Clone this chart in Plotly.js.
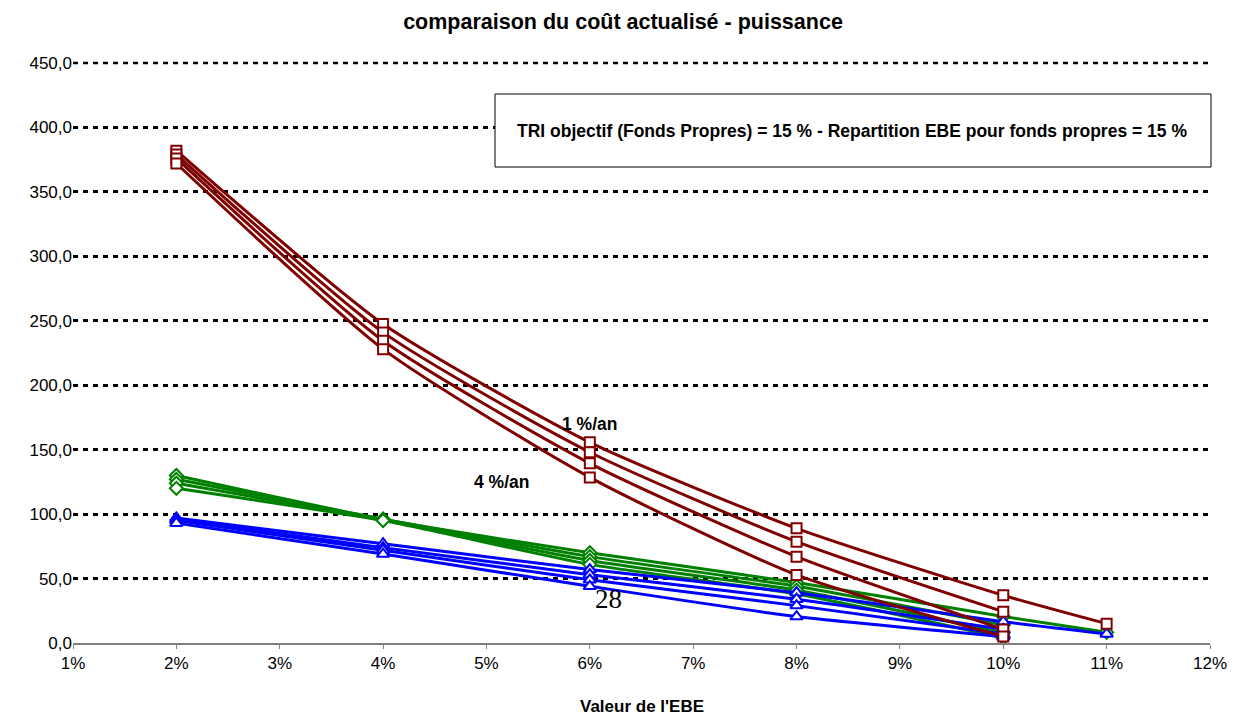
<!DOCTYPE html>
<html>
<head>
<meta charset="utf-8">
<script src="https://cdn.plot.ly/plotly-3.0.1.min.js"></script>
<style>html,body{margin:0;padding:0;background:#fff;}#chart{width:1233px;height:717px;}</style>
</head>
<body>
<div id="chart"></div>
<script>
// x values (EBE, %)
const xLong = [2, 4, 6, 8, 10, 11];
const xShort = [2, 4, 6, 8, 10];

// red group (squares)
const red1 = [382, 247.5, 155.7, 89, 37, 15];
const red2 = [379, 241, 148, 78.6, 24.3];
const red3 = [376, 234.5, 139.4, 67, 10.5];
const red4 = [372, 228, 128.5, 52.8, 5];

// green group (diamonds)
const green1 = [130, 96, 70, 47, 20.5, 8.3];
const green2 = [127, 96, 67, 44, 14];
const green3 = [124, 95.5, 64, 41, 8];
const green4 = [120, 95, 61, 38, 4];

// blue group (triangles)
const blue1 = [97, 77, 57, 39, 16.5, 7];
const blue2 = [96, 74, 53, 34, 10.6];
const blue3 = [95, 72, 49, 29, 7];
const blue4 = [93, 69, 44, 20.5, 4.9];

const seriesNames = ["1 %/an", "2 %/an", "3 %/an", "4 %/an"];
const xTickVals = [1,2,3,4,5,6,7,8,9,10,11,12];
const xTickText = ["1%","2%","3%","4%","5%","6%","7%","8%","9%","10%","11%","12%"];
const yTickVals = [0,50,100,150,200,250,300,350,400,450];
const yTickText = ["0,0","50,0","100,0","150,0","200,0","250,0","300,0","350,0","400,0","450,0"];

function mk(x, y, name, color, symbol) {
  return {
    x: x, y: y, name: name, type: "scatter", mode: "lines+markers",
    line: {color: color, width: 3, shape: "spline", smoothing: 0.6},
    marker: {symbol: symbol, size: symbol === "triangle-up" ? 11 : 10, color: "#ffffff",
             line: {color: color, width: 2}},
    cliponaxis: false,
    hoverinfo: "x+y+name"
  };
}
const RED = "#800000", GREEN = "#008000", BLUE = "#0000ff";
const data = [
  mk(xLong, green1, seriesNames[0], GREEN, "diamond"),
  mk(xShort, green2, seriesNames[1], GREEN, "diamond"),
  mk(xShort, green3, seriesNames[2], GREEN, "diamond"),
  mk(xShort, green4, seriesNames[3], GREEN, "diamond"),
  mk(xLong, blue1, seriesNames[0], BLUE, "triangle-up"),
  mk(xShort, blue2, seriesNames[1], BLUE, "triangle-up"),
  mk(xShort, blue3, seriesNames[2], BLUE, "triangle-up"),
  mk(xShort, blue4, seriesNames[3], BLUE, "triangle-up"),
  mk(xLong, red1, seriesNames[0], RED, "square"),
  mk(xShort, red2, seriesNames[1], RED, "square"),
  mk(xShort, red3, seriesNames[2], RED, "square"),
  mk(xShort, red4, seriesNames[3], RED, "square")
];

const FONT = "Liberation Sans, Arial, sans-serif";
const layout = {
  width: 1233, height: 717,
  margin: {l: 73, r: 23, t: 63, b: 74},
  paper_bgcolor: "#ffffff", plot_bgcolor: "#ffffff",
  showlegend: false,
  font: {family: FONT, size: 17, color: "#000"},
  title: {text: "<b>comparaison du coût actualisé - puissance</b>", font: {family: FONT, size: 21.5, color: "#000"},
          x: (623-0)/1233, xanchor: "center", y: 1 - 21/717, yanchor: "middle"},
  xaxis: {
    range: [1, 12], tickvals: xTickVals, ticktext: xTickText,
    showgrid: false, zeroline: false,
    showline: true, linecolor: "#808080", linewidth: 2,
    ticks: "outside", ticklen: 4, tickcolor: "#808080",
    tickfont: {family: FONT, size: 17, color: "#000"}
  },
  yaxis: {
    range: [0, 450], tickvals: yTickVals, ticktext: yTickText,
    showgrid: true, gridcolor: "#000000", gridwidth: 2.5, griddash: "5px,5px",
    zeroline: false, showline: false, ticks: "",
    tickfont: {family: FONT, size: 17, color: "#000"}
  },
  shapes: [
    {type: "line", xref: "paper", yref: "paper", x0: 0, x1: 1, y0: 1, y1: 1,
     line: {color: "#000", width: 2.5, dash: "5px,5px"}, layer: "below"},
    {type: "rect", xref: "paper", yref: "paper",
     x0: (495-73)/1137, x1: (1211-73)/1137, y0: (643-167)/580, y1: (643-94)/580,
     line: {color: "#000", width: 1}, fillcolor: "#ffffff", layer: "above"}
  ],
  annotations: [
    {text: "<b>TRI objectif (Fonds Propres) = 15 % - Repartition EBE pour fonds propres = 15 %</b>",
     xref: "paper", yref: "paper", x: (852-73)/1137, y: (643-131)/580, showarrow: false,
     font: {family: FONT, size: 17.5, color: "#000"}, xanchor: "center", yanchor: "middle"},
    {text: "<b>1 %/an</b>", x: 6.0, y: 170, showarrow: false, font: {family: FONT, size: 17.5, color: "#000"}},
    {text: "<b>4 %/an</b>", x: 5.15, y: 125, showarrow: false, font: {family: FONT, size: 17.5, color: "#000"}},
    {text: "28", x: 6.18, y: 34, showarrow: false, font: {family: "Liberation Serif, Times New Roman, serif", size: 27, color: "#000"}},
    {text: "<b>Valeur de l'EBE</b>", xref: "paper", yref: "paper", x: 0.5, y: (643-695)/580,
     xanchor: "center", yanchor: "top", showarrow: false, font: {family: FONT, size: 17, color: "#000"}}
  ]
};
Plotly.newPlot("chart", data, layout, {displayModeBar: false});
</script>
</body>
</html>
